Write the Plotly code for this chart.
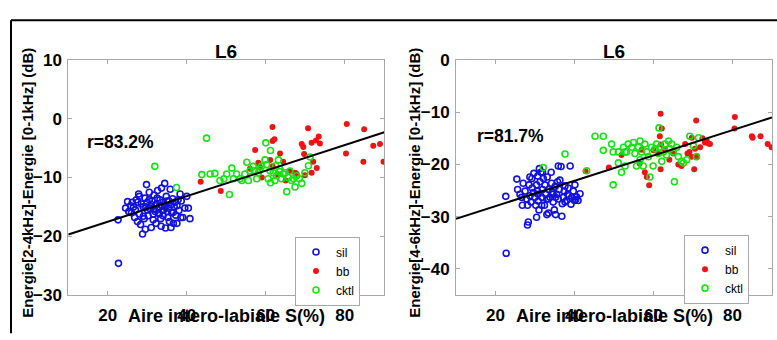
import plotly.graph_objects as go

# ---------------- data ----------------
# Left panel : Energie[2-4kHz]-Energie[0-1kHz]
sil1_x = [22.6, 22.7, 24.5, 25.0, 25.3, 25.8, 26.0, 26.2, 26.8, 27.0, 27.2, 27.5, 27.8, 28.0, 28.3, 28.5,
          28.8, 29.0, 29.2, 29.4, 29.5, 29.8, 30.0, 30.2, 30.5, 30.7, 31.0, 31.2, 31.5, 31.7, 32.0, 32.2,
          32.4, 32.6, 32.8, 33.0, 33.2, 33.4, 33.6, 33.8, 34.0, 34.2, 34.4, 34.6, 34.8, 35.0, 35.2, 35.4,
          35.6, 35.8, 36.0, 36.2, 36.4, 36.6, 36.8, 37.0, 37.2, 37.5, 37.8, 38.0, 38.3, 38.6, 39.0, 39.5,
          40.0, 40.4, 40.8, 30.0, 31.0, 32.0, 33.0, 34.0, 35.0, 28.0, 29.0, 31.5, 33.5, 36.0, 30.5, 32.5,
          34.5, 35.5, 37.5, 38.5, 26.5, 27.6, 29.6, 31.8, 33.8, 36.6]
sil1_y = [-17.2, -24.6, -15.2, -14.1, -15.8, -14.8, -16.0, -14.2, -16.8, -15.5, -13.8, -17.5, -12.8, -16.2, -18.0, -14.5,
          -19.6, -15.0, -17.0, -13.5, -18.8, -11.2, -14.2, -16.5, -12.5, -15.3, -18.5, -14.0, -16.2, -13.0, -15.8, -17.8,
          -14.6, -12.2, -16.0, -15.0, -13.8, -17.0, -11.8, -14.8, -16.5, -15.5, -11.0, -18.6, -13.2, -14.0, -16.8, -15.2,
          -17.5, -12.0, -14.6, -16.0, -13.6, -17.8, -15.0, -14.2, -16.4, -17.8, -13.8, -15.6, -12.8, -14.0, -16.8, -15.2,
          -13.2, -15.2, -17.0, -15.5, -14.6, -14.8, -16.2, -14.2, -15.8, -13.2, -16.6, -17.2, -18.3, -18.5, -13.8, -13.5,
          -15.0, -14.0, -14.8, -16.8, -15.0, -14.2, -15.0, -15.4, -15.6, -15.9]

bb1_x = [43.5, 48.6, 61.7, 61.7, 62.2, 57.3, 63.6, 70.7, 69.1, 69.5, 71.6, 72.7, 73.4, 73.7, 69.7, 80.5,
         84.9, 80.3, 87.2, 88.9, 89.8, 84.7, 58.1, 61.1, 64.4, 67.4, 67.8, 69.9, 72.9, 72.0, 71.6, 58.5,
         56.0, 59.0, 61.7, 63.0, 65.0, 66.0]
bb1_y = [-10.7, -12.3, -1.4, -3.8, -3.5, -5.3, -5.9, -1.6, -4.3, -4.8, -4.1, -3.7, -3.0, -4.2, -6.0, -0.9,
         -1.8, -5.9, -4.6, -4.3, -7.3, -7.3, -7.5, -7.0, -7.3, -9.2, -9.4, -9.6, -8.4, -7.3, -9.2, -8.2,
         -8.5, -10.0, -8.1, -9.5, -10.5, -9.0]

cktl1_x = [31.9, 37.4, 45.0, 43.8, 47.1, 48.4, 49.4, 50.1, 50.8, 51.4, 51.8, 52.6, 53.5, 53.9, 54.7, 55.6,
           56.0, 56.8, 57.7, 58.1, 58.5, 58.9, 59.8, 60.2, 60.6, 61.1, 61.2, 61.9, 62.3, 62.7, 63.2, 63.6,
           64.0, 64.4, 64.9, 65.3, 65.7, 66.1, 66.5, 67.0, 67.4, 67.8, 68.5, 69.1, 69.9, 70.8, 71.2, 60.0,
           61.2, 45.9, 55.2, 57.0, 62.5, 63.5]
cktl1_y = [-8.1, -11.7, -3.3, -9.5, -9.3, -10.5, -10.2, -9.4, -12.9, -8.4, -10.2, -9.4, -10.2, -10.5, -9.4, -10.5,
           -8.9, -8.1, -10.2, -9.2, -8.6, -8.1, -7.0, -7.8, -10.2, -8.9, -10.9, -9.2, -10.5, -9.7, -7.0, -8.6,
           -10.2, -9.4, -9.2, -12.4, -10.0, -8.9, -10.5, -10.2, -11.6, -9.7, -10.2, -11.0, -9.2, -8.0, -6.5, -4.1,
           -5.4, -9.4, -7.4, -8.8, -8.0, -9.0]

# Right panel : Energie[4-6kHz]-Energie[0-1kHz]
sil2_x = [22.6, 22.7, 25.4, 25.6, 26.2, 26.6, 26.8, 27.0, 27.5, 27.9, 28.1, 28.1, 28.3, 28.5, 28.7, 29.0,
          29.2, 29.3, 29.6, 29.7, 30.0, 30.2, 30.4, 30.6, 30.8, 31.0, 31.3, 31.5, 31.7, 31.9, 32.1, 32.4,
          32.5, 32.7, 33.0, 33.1, 33.4, 33.5, 33.8, 34.1, 34.2, 34.4, 34.6, 34.9, 35.1, 35.2, 35.5, 35.7,
          35.9, 36.1, 36.3, 36.6, 36.8, 36.9, 37.2, 37.4, 37.6, 38.0, 38.3, 38.4, 38.6, 39.1, 39.3, 39.7,
          40.0, 40.1, 40.5, 40.9, 41.4, 38.9, 31.1, 31.9, 28.7, 30.4, 33.0, 35.9, 30.7, 40.3, 37.6, 34.6,
          33.4, 31.7, 30.8, 35.2]
sil2_y = [-26.1, -37.0, -22.8, -24.8, -25.7, -26.3, -27.8, -23.6, -25.1, -26.6, -27.8, -31.6, -31.0, -23.9, -26.0, -27.2,
          -22.7, -24.5, -25.4, -21.7, -26.3, -27.8, -23.9, -25.1, -27.0, -28.7, -23.3, -21.5, -26.3, -24.8, -22.7, -27.8,
          -23.9, -25.7, -26.6, -22.4, -29.3, -24.8, -26.3, -21.5, -23.6, -25.4, -27.2, -28.7, -24.2, -29.6, -25.7, -23.3,
          -26.6, -24.8, -23.0, -20.4, -29.9, -27.5, -26.3, -25.1, -24.1, -26.9, -25.7, -24.5, -26.0, -27.6, -26.3, -25.1,
          -26.9, -23.9, -26.2, -26.9, -25.6, -20.3, -20.8, -21.5, -22.4, -30.1, -29.6, -20.3, -22.2, -26.7, -27.2, -25.7,
          -26.6, -27.8, -25.7, -26.3]

bb2_x = [61.8, 62.1, 61.6, 61.9, 61.8, 57.8, 58.3, 58.9, 70.8, 69.7, 70.5, 70.9, 69.1, 68.0, 68.6, 72.4,
         73.0, 73.5, 73.9, 74.3, 70.3, 71.8, 80.6, 80.5, 84.9, 85.1, 87.1, 88.9, 89.9, 69.7, 65.0, 66.3,
         67.1, 64.0, 62.7, 60.0, 61.2, 42.8, 48.7, 51.9, 56.5, 57.0]
bb2_y = [-10.3, -13.1, -14.6, -16.2, -20.9, -21.5, -22.4, -24.0, -11.6, -14.9, -17.0, -18.5, -17.6, -16.1, -17.9, -15.0,
         -15.8, -15.5, -16.0, -16.1, -20.9, -16.7, -10.9, -13.1, -14.6, -14.9, -14.6, -16.1, -16.7, -18.5, -17.9, -20.0,
         -20.3, -19.1, -17.0, -17.3, -17.9, -21.3, -20.6, -18.2, -19.8, -17.2]

cktl2_x = [37.6, 32.1, 43.1, 45.2, 47.3, 47.3, 49.8, 49.8, 49.4, 51.1, 51.9, 52.4, 52.8, 53.2, 53.6, 54.5,
           54.9, 55.3, 55.7, 56.2, 56.6, 57.0, 57.4, 57.8, 58.3, 58.7, 59.1, 59.5, 59.9, 60.4, 60.8, 61.2,
           61.4, 61.6, 62.1, 62.5, 62.9, 63.3, 63.8, 64.2, 64.6, 65.0, 65.3, 65.9, 66.3, 67.1, 67.6, 68.4,
           69.2, 70.1, 70.9, 71.4, 56.6, 52.8, 51.1]
cktl2_y = [-18.0, -20.6, -21.2, -14.6, -14.6, -17.3, -17.6, -23.9, -16.1, -19.7, -21.5, -16.7, -20.3, -17.6, -16.1, -16.7,
           -15.8, -17.9, -20.3, -16.7, -15.5, -17.6, -20.3, -16.1, -17.6, -18.5, -22.4, -16.7, -20.3, -17.0, -16.1, -17.9,
           -13.0, -16.7, -19.4, -17.6, -16.1, -18.2, -15.5, -17.0, -16.1, -17.6, -23.3, -16.7, -18.5, -19.4, -19.7, -19.1,
           -14.6, -16.4, -18.5, -14.9, -19.1, -17.6, -17.6]

# regression lines (end points)
fit_x = [10, 90]
fit1_y = [-19.7, -2.3]
fit2_y = [-30.4, -11.0]

x_ticks = [20, 40, 60, 80]
y1_ticks = [-30, -20, -10, 0, 10]
y2_ticks = [-40, -30, -20, -10, 0]
r_labels = ["r=83.2%", "r=81.7%"]
titles = ["L6", "L6"]
xlabel = "Aire intero-labiale S(%)"
ylabels = ["Energie[2-4kHz]-Energie [0-1kHz] (dB)", "Energie[4-6kHz]-Energie [0-1kHz] (dB)"]
series_names = ["sil", "bb", "cktl"]

# ---------------- styling ----------------
W, H = 777, 340
FONT = "Liberation Sans, Arial, Helvetica, sans-serif"
BLUE, RED, GREEN = "#1212dc", "#ec1414", "#14e214"

def px(x):
    return x / W

def py(y):
    return 1 - y / H

fig = go.Figure()

panels = [
    dict(sx=sil1_x, sy=sil1_y, bx=bb1_x, by=bb1_y, cx=cktl1_x, cy=cktl1_y, fy=fit1_y,
         xa="x", ya="y", leg="legend"),
    dict(sx=sil2_x, sy=sil2_y, bx=bb2_x, by=bb2_y, cx=cktl2_x, cy=cktl2_y, fy=fit2_y,
         xa="x2", ya="y2", leg="legend2"),
]

for p in panels:
    fig.add_trace(go.Scatter(x=p["sx"], y=p["sy"], mode="markers", name=series_names[0],
                             marker=dict(symbol="circle-open", size=6, color=BLUE, line=dict(width=1.6, color=BLUE)),
                             xaxis=p["xa"], yaxis=p["ya"], legend=p["leg"]))
    fig.add_trace(go.Scatter(x=p["bx"], y=p["by"], mode="markers", name=series_names[1],
                             marker=dict(symbol="circle", size=6, color=RED, line=dict(width=0)),
                             xaxis=p["xa"], yaxis=p["ya"], legend=p["leg"]))
    fig.add_trace(go.Scatter(x=p["cx"], y=p["cy"], mode="markers", name=series_names[2],
                             marker=dict(symbol="circle-open", size=6, color=GREEN, line=dict(width=1.6, color=GREEN)),
                             xaxis=p["xa"], yaxis=p["ya"], legend=p["leg"]))
    fig.add_trace(go.Scatter(x=fit_x, y=p["fy"], mode="lines", showlegend=False,
                             line=dict(color="black", width=2),
                             xaxis=p["xa"], yaxis=p["ya"]))

# plot area boxes in window pixels
L1, R1 = 68.3, 384.3
L2, R2 = 456.0, 772.0
TOP, BOT = 54.0, 303.0

axis_common = dict(showgrid=False, zeroline=False, showline=True, linecolor="#a8a8a8", linewidth=1,
                   mirror="ticks", ticks="inside", ticklen=4, tickcolor="#a8a8a8",
                   tickfont=dict(family=FONT, size=17, color="black", weight="bold"))

legend_common = dict(xanchor="left", yanchor="top", bgcolor="white",
                     bordercolor="#a8a8a8", borderwidth=1, font=dict(family=FONT, size=12),
                     itemwidth=30, tracegroupgap=0)

fig.update_layout(
    width=W, height=H, margin=dict(l=0, r=0, t=0, b=0),
    paper_bgcolor="white", plot_bgcolor="white",
    font=dict(family=FONT, color="black"),
    xaxis=dict(domain=[px(L1), px(R1)], range=[10, 90], tickvals=x_ticks, anchor="y",
               ticklabelstandoff=5, **axis_common),
    yaxis=dict(domain=[py(BOT), py(TOP)], range=[-30, 10], tickvals=y1_ticks, anchor="x",
               ticklabelstandoff=2, **axis_common),
    xaxis2=dict(domain=[px(L2), px(R2)], range=[10, 90], tickvals=x_ticks, anchor="y2",
                ticklabelstandoff=5, **axis_common),
    yaxis2=dict(domain=[py(BOT), py(TOP)], range=[-45, 0], tickvals=y2_ticks, anchor="x2",
                ticklabelstandoff=2, **axis_common),
    legend=dict(x=px(295), y=py(241), **legend_common),
    legend2=dict(x=px(684), y=py(239), **legend_common),
)

ann = []
for i, (cx, yl_x, r_x, r_y) in enumerate([((L1 + R1) / 2, 28, 120, 141), ((L2 + R2) / 2, 415, 510, 135)]):
    ann.append(dict(text=titles[i], x=px(cx), y=py(45), xref="paper", yref="paper", showarrow=False,
                    font=dict(family=FONT, size=19, weight="bold"), xanchor="center", yanchor="middle"))
    ann.append(dict(text=xlabel, x=px(cx), y=py(325), xref="paper", yref="paper", showarrow=False,
                    font=dict(family=FONT, size=18, weight="bold"), xanchor="center", yanchor="middle"))
    ann.append(dict(text=ylabels[i], x=px(yl_x), y=py(184), xref="paper", yref="paper",
                    showarrow=False, textangle=-90,
                    font=dict(family=FONT, size=15, weight="bold"), xanchor="center", yanchor="middle"))
    ann.append(dict(text=r_labels[i], x=px(r_x), y=py(r_y), xref="paper", yref="paper", showarrow=False,
                    font=dict(family=FONT, size=17.5, weight="bold"), xanchor="center", yanchor="middle"))
fig.update_layout(annotations=ann)

# outer frame (top and left edges of the figure border)
fig.add_shape(type="line", xref="paper", yref="paper", x0=px(11), x1=1.01, y0=py(12), y1=py(12),
              line=dict(color="black", width=2))
fig.add_shape(type="line", xref="paper", yref="paper", x0=px(11), x1=px(11), y0=py(12), y1=-0.01,
              line=dict(color="black", width=2))

fig.write_html("out.html",
               config={"displayModeBar": False},
               post_script="document.documentElement.style.margin='0';document.body.style.margin='0';"
                           "document.documentElement.style.overflow='hidden';document.body.style.overflow='hidden';")
